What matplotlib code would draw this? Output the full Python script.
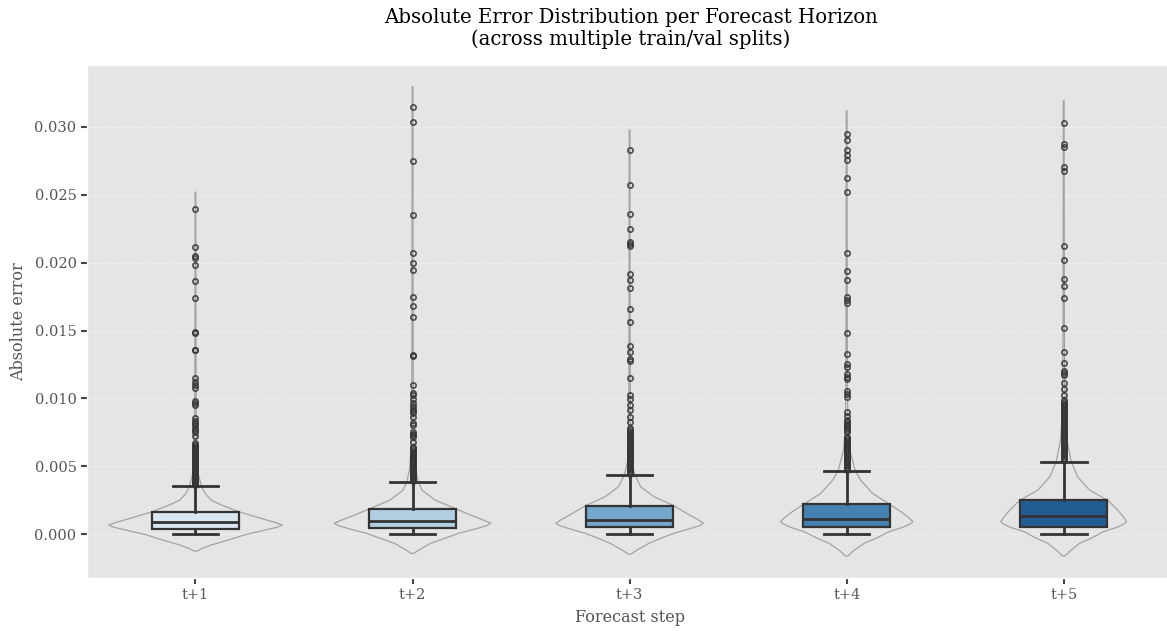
import matplotlib
matplotlib.use("Agg")
import matplotlib.pyplot as plt

plt.style.use("ggplot")
plt.rcParams["font.family"] = ["DejaVu Serif"]

# Forecast horizons
steps = ["t+1", "t+2", "t+3", "t+4", "t+5"]
box_colors = ["#dae6f2", "#b2cfe2", "#74a7cb", "#4581b1", "#225c93"]

# Box statistics per horizon
q1 = [0.00035, 0.00047, 0.00054, 0.00052, 0.00054]
median = [0.00091, 0.00098, 0.00105, 0.00113, 0.00135]
q3 = [0.00164, 0.00184, 0.00209, 0.00219, 0.00248]
whisker_low = [0.0, 0.0, 0.0, 0.0, 0.0]
whisker_high = [0.00355, 0.00386, 0.00436, 0.00467, 0.00533]

# Outliers per horizon
fliers_t1 = [0.02395, 0.02118, 0.02047, 0.02037, 0.01980, 0.01865, 0.01737,
             0.01489, 0.01484, 0.01360, 0.01354, 0.01147, 0.01123, 0.01098,
             0.01074, 0.00983, 0.00963, 0.00951, 0.00853, 0.00835, 0.00818,
             0.00800, 0.00785, 0.00770, 0.00754, 0.00722, 0.00668, 0.00658,
             0.00648, 0.00636, 0.00625, 0.00615, 0.00604, 0.00592, 0.00581,
             0.00570, 0.00561, 0.00550, 0.00540, 0.00528, 0.00517, 0.00506,
             0.00495, 0.00484, 0.00473, 0.00462, 0.00451, 0.00440, 0.00430,
             0.00420, 0.00410, 0.00400, 0.00390, 0.00380, 0.00370, 0.00362]
fliers_t2 = [0.03150, 0.03039, 0.02749, 0.02351, 0.02074, 0.01995, 0.01944,
             0.01745, 0.01678, 0.01602, 0.01317, 0.01312, 0.01098, 0.01037,
             0.01025, 0.00993, 0.00963, 0.00945, 0.00925, 0.00905, 0.00890,
             0.00865, 0.00816, 0.00807, 0.00754, 0.00740, 0.00728, 0.00717,
             0.00680, 0.00644, 0.00632, 0.00620, 0.00608, 0.00597, 0.00585,
             0.00574, 0.00562, 0.00551, 0.00540, 0.00528, 0.00517, 0.00505,
             0.00494, 0.00483, 0.00472, 0.00461, 0.00450, 0.00440, 0.00430,
             0.00420, 0.00410, 0.00400, 0.00392]
fliers_t3 = [0.02830, 0.02575, 0.02361, 0.02246, 0.02155, 0.02137, 0.02125,
             0.01919, 0.01874, 0.01815, 0.01656, 0.01560, 0.01383, 0.01341,
             0.01287, 0.01278, 0.01147, 0.01022, 0.00993, 0.00951, 0.00914,
             0.00865, 0.00828, 0.00779, 0.00766, 0.00752, 0.00740, 0.00727,
             0.00714, 0.00700, 0.00688, 0.00676, 0.00663, 0.00650, 0.00637,
             0.00625, 0.00612, 0.00600, 0.00588, 0.00575, 0.00562, 0.00550,
             0.00538, 0.00526, 0.00514, 0.00502, 0.00490, 0.00478, 0.00466,
             0.00455, 0.00445]
fliers_t4 = [0.02951, 0.02902, 0.02828, 0.02794, 0.02757, 0.02626, 0.02521,
             0.02071, 0.01941, 0.01872, 0.01749, 0.01725, 0.01705, 0.01482,
             0.01329, 0.01251, 0.01233, 0.01177, 0.01160, 0.01142, 0.01054,
             0.01032, 0.01007, 0.00902, 0.00870, 0.00840, 0.00825, 0.00810,
             0.00795, 0.00780, 0.00765, 0.00750, 0.00717, 0.00705, 0.00694,
             0.00683, 0.00672, 0.00661, 0.00650, 0.00639, 0.00628, 0.00617,
             0.00606, 0.00595, 0.00584, 0.00573, 0.00562, 0.00551, 0.00540,
             0.00529, 0.00518, 0.00507, 0.00496, 0.00485, 0.00475]
fliers_t5 = [0.03027, 0.02872, 0.02855, 0.02703, 0.02678, 0.02125, 0.02017,
             0.01882, 0.01830, 0.01740, 0.01518, 0.01341, 0.01258, 0.01200,
             0.01190, 0.01172, 0.01111, 0.01066, 0.01025, 0.00988, 0.00975,
             0.00962, 0.00950, 0.00938, 0.00925, 0.00912, 0.00900, 0.00888,
             0.00875, 0.00862, 0.00850, 0.00838, 0.00825, 0.00812, 0.00800,
             0.00788, 0.00775, 0.00762, 0.00750, 0.00738, 0.00725, 0.00712,
             0.00700, 0.00688, 0.00675, 0.00662, 0.00650, 0.00638, 0.00625,
             0.00612, 0.00600, 0.00588, 0.00575, 0.00562, 0.00550, 0.00542]
fliers = [fliers_t1, fliers_t2, fliers_t3, fliers_t4, fliers_t5]

# Kernel density profiles (error value, relative density)
kde_y_t1 = [-0.00125, -0.00105, -0.00081, -0.00044, -0.00007, 0.00029, 0.00050,
            0.00066, 0.00085, 0.00118, 0.00164, 0.00214, 0.00250, 0.00300,
            0.00349, 0.00450, 0.00545, 0.00770, 0.01130, 0.01800, 0.02520]
kde_d_t1 = [0.02, 0.08, 0.18, 0.38, 0.56, 0.80, 0.94,
            1.00, 0.92, 0.74, 0.50, 0.30, 0.18, 0.11,
            0.07, 0.03, 0.017, 0.010, 0.007, 0.005, 0.004]
kde_y_t2 = [-0.00142, -0.00115, -0.00069, -0.00030, 0.00005, 0.00040, 0.00062,
            0.00079, 0.00100, 0.00140, 0.00184, 0.00250, 0.00324, 0.00386,
            0.00472, 0.00600, 0.00850, 0.01300, 0.02000, 0.03297]
kde_d_t2 = [0.02, 0.09, 0.23, 0.42, 0.59, 0.82, 0.95,
            1.00, 0.92, 0.74, 0.56, 0.29, 0.12, 0.073,
            0.04, 0.022, 0.012, 0.008, 0.006, 0.005]
kde_y_t3 = [-0.00147, -0.00118, -0.00069, -0.00030, 0.00005, 0.00040, 0.00062,
            0.00079, 0.00105, 0.00150, 0.00209, 0.00275, 0.00349, 0.00437,
            0.00545, 0.00700, 0.00950, 0.01400, 0.02000, 0.02978]
kde_d_t3 = [0.02, 0.10, 0.26, 0.43, 0.60, 0.82, 0.95,
            1.00, 0.93, 0.78, 0.60, 0.33, 0.15, 0.07,
            0.023, 0.015, 0.010, 0.008, 0.006, 0.005]
kde_y_t4 = [-0.00162, -0.00125, -0.00069, -0.00030, 0.00017, 0.00050, 0.00075,
            0.00091, 0.00120, 0.00165, 0.00219, 0.00300, 0.00398, 0.00467,
            0.00619, 0.00791, 0.01100, 0.01600, 0.02300, 0.03118]
kde_d_t4 = [0.02, 0.10, 0.26, 0.45, 0.64, 0.85, 0.96,
            1.00, 0.94, 0.82, 0.65, 0.39, 0.21, 0.13,
            0.046, 0.020, 0.012, 0.009, 0.007, 0.006]
kde_y_t5 = [-0.00162, -0.00125, -0.00069, -0.00030, 0.00017, 0.00050, 0.00075,
            0.00091, 0.00125, 0.00180, 0.00248, 0.00324, 0.00422, 0.00533,
            0.00693, 0.00865, 0.01150, 0.01600, 0.02300, 0.03192]
kde_d_t5 = [0.02, 0.10, 0.25, 0.44, 0.63, 0.85, 0.96,
            1.00, 0.95, 0.85, 0.70, 0.41, 0.22, 0.12,
            0.050, 0.027, 0.015, 0.010, 0.008, 0.006]
kde_y = [kde_y_t1, kde_y_t2, kde_y_t3, kde_y_t4, kde_y_t5]
kde_d = [kde_d_t1, kde_d_t2, kde_d_t3, kde_d_t4, kde_d_t5]
# Violin widths follow the peak density of each horizon
violin_widths = [0.80, 0.72, 0.68, 0.61, 0.58]

positions = list(range(len(steps)))

fig = plt.figure(figsize=(11.67, 6.31), dpi=100)
ax = fig.add_axes([0.0745, 0.084, 0.930, 0.813])

# Violins (outline only)
vpstats = []
for i in range(len(steps)):
    vpstats.append({
        "coords": kde_y[i],
        "vals": kde_d[i],
        "mean": median[i],
        "median": median[i],
        "min": kde_y[i][0],
        "max": kde_y[i][-1],
    })
vp = ax.violin(vpstats, positions=positions, widths=violin_widths,
               showmeans=False, showextrema=False, showmedians=False)
for body in vp["bodies"]:
    body.set_facecolor("none")
    body.set_edgecolor("#a3a3a3")
    body.set_linewidth(0.9)
    body.set_alpha(1)
    body.set_zorder(2)

# Box plots on top
bstats = []
for i in range(len(steps)):
    bstats.append({
        "q1": q1[i], "med": median[i], "q3": q3[i],
        "whislo": whisker_low[i], "whishi": whisker_high[i],
        "fliers": fliers[i],
    })
line_c = "#333333"
bp = ax.bxp(bstats, positions=positions, widths=0.4, capwidths=0.21,
            patch_artist=True, showfliers=True,
            boxprops=dict(edgecolor=line_c, linewidth=1.6),
            medianprops=dict(color=line_c, linewidth=2.0),
            whiskerprops=dict(color=line_c, linewidth=2.0),
            capprops=dict(color=line_c, linewidth=2.0),
            flierprops=dict(marker="o", markersize=3.8, markerfacecolor="none",
                            markeredgecolor=line_c, markeredgewidth=1.2,
                            alpha=0.85))
for patch, c in zip(bp["boxes"], box_colors):
    patch.set_facecolor(c)
for k in ["boxes", "medians", "whiskers", "caps", "fliers"]:
    for art in bp[k]:
        art.set_zorder(3)

ax.set_xlim(-0.5, 4.5)
ax.set_ylim(-0.00324, 0.03457)
ax.set_xticks(positions)
ax.set_xticklabels(steps)
ax.set_yticks([0.000, 0.005, 0.010, 0.015, 0.020, 0.025, 0.030])
ax.set_yticklabels(["0.000", "0.005", "0.010", "0.015", "0.020", "0.025", "0.030"])
ax.tick_params(axis="both", labelsize=10.5, colors="#555555", length=4,
               width=1.5)
ax.tick_params(axis="both", color="#444444")
ax.grid(False)
ax.yaxis.grid(True, linestyle="--", color="white", linewidth=0.8, alpha=0.45)
ax.set_axisbelow(True)

ax.set_xlabel("Forecast step", fontsize=11.5, color="#555555", labelpad=5)
ax.set_ylabel("Absolute error", fontsize=11.5, color="#555555", labelpad=5)
fig.text(0.5405, 0.988, "Absolute Error Distribution per Forecast Horizon\n"
         "(across multiple train/val splits)", ha="center", va="top",
         fontsize=14.2, color="black", linespacing=1.15)

fig.savefig("out.png", dpi=100)
